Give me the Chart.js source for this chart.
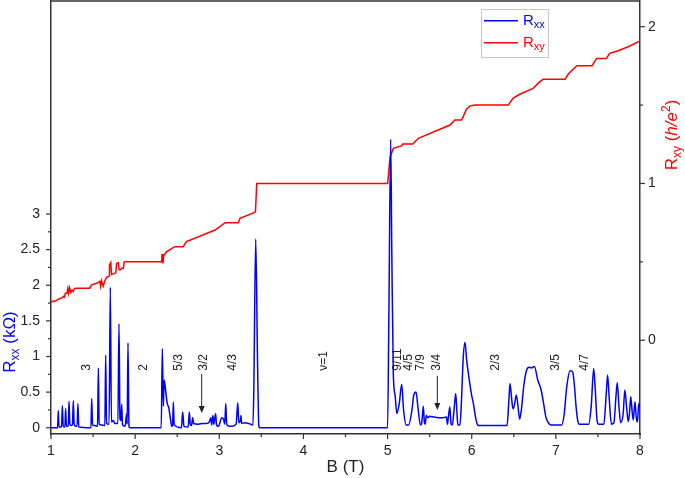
<!DOCTYPE html>
<html><head><meta charset="utf-8">
<script src="https://cdn.jsdelivr.net/npm/chart.js@4"></script>
<style>html,body{margin:0;padding:0;background:#fff}</style>
</head><body>
<canvas id="c" width="685" height="478"></canvas>
<script>
// ---- data ----
const B_xx = [1.00,1.078,1.087,1.095,1.125,1.135,1.145,1.165,1.174,1.183,1.205,1.214,1.224,1.235,1.255,1.265,1.275,1.29,1.31,1.32,1.33,
 1.475,1.484,1.494,1.52,1.553,1.563,1.572,1.60,1.64,1.65,1.66,1.69,1.705,1.718,1.74,1.76,1.795,1.808,1.82,1.832,1.84,1.85,1.88,1.90,1.905,1.915,1.927,1.94,
 2.31,2.323,2.335,2.345,2.36,2.38,2.40,2.42,2.435,2.445,2.454,2.464,2.55,2.565,2.58,2.63,2.644,2.655,2.67,2.684,2.695,2.75,2.80,2.85,2.88,2.90,2.91,2.925,2.935,2.957,2.967,2.99,
 3.03,3.05,3.065,3.077,3.088,3.12,3.15,3.20,3.22,3.232,3.25,3.258,3.265,3.30,3.35,3.40,3.41,3.433,3.455,3.47,3.48,
 5.00,5.015,5.037,5.05,5.068,5.09,5.11,5.14,5.168,5.19,5.22,5.25,5.29,5.31,5.338,5.36,5.39,5.405,5.425,5.437,5.447,5.46,5.48,5.50,5.55,5.60,5.65,5.70,5.712,5.72,5.74,5.755,5.77,5.79,5.81,5.825,5.835,5.86,5.875,5.90,5.92,5.94,5.97,6.00,6.02,6.045,6.07,6.10,
 6.42,6.44,6.455,6.475,6.49,6.505,6.53,6.55,6.57,6.59,6.62,6.65,6.68,6.71,6.745,6.785,6.825,6.86,6.88,6.91,6.94,
 7.07,7.10,7.13,7.17,7.20,7.22,7.24,7.26,7.28,7.39,7.42,7.45,7.47,7.49,7.51,7.57,7.60,7.615,7.635,7.66,7.69,7.715,7.73,7.75,7.77,7.80,7.82,7.84,7.86,7.875,7.89,7.905,7.92,7.94,7.955,7.97,7.985,8.00];
const R_xx = [0,0,0.24,0.01,0.01,0.31,0.02,0.01,0.27,0.02,0.02,0.37,0.05,0.03,0.04,0.38,0.06,0.02,0.02,0.34,0.01,
 0,0.41,0.03,0.03,0.02,0.84,0.05,0.04,0.03,1.02,0.06,0.05,1.97,0.08,0.10,0.06,0.06,1.46,0.12,0.10,0.33,0.04,0.02,0.20,0.05,1.19,0.02,0,
 0,1.11,0.30,0.67,0.55,0.35,0.28,0.12,0.02,0.03,0.36,0.04,0,0.22,0.02,0.01,0.22,0.05,0.03,0.14,0.06,0.05,0.06,0.06,0.08,0.14,0.04,0.17,0.05,0.20,0.04,0.02,
 0.14,0.12,0.05,0.34,0.05,0.02,0.02,0.05,0.35,0.07,0.10,0.17,0.06,0.07,0.06,0.04,0.50,2.65,0.90,0.02,0,
 0,1.50,4.05,2.50,0.76,0.45,0.20,0.35,0.61,0.25,0.04,0.04,0.25,0.45,0.50,0.30,0.04,0.06,0.30,0.08,0.05,0.17,0.14,0.16,0.15,0.14,0.14,0.15,0.05,0.12,0.29,0.05,0.04,0.25,0.48,0.20,0.04,0.04,0.30,1.00,1.20,0.95,0.68,0.45,0.34,0.15,0.04,0.03,
 0.03,0.35,0.62,0.40,0.27,0.30,0.46,0.30,0.12,0.25,0.60,0.80,0.85,0.84,0.86,0.67,0.53,0.30,0.155,0.07,0.04,
 0.04,0.20,0.58,0.80,0.78,0.60,0.30,0.10,0.05,0.05,0.30,0.83,0.50,0.10,0.05,0.05,0.50,0.74,0.40,0.05,0.07,0.45,0.63,0.30,0.07,0.20,0.53,0.30,0.085,0.20,0.435,0.25,0.11,0.365,0.15,0.08,0.34,0.28];
const B_xy = [1.00,1.05,1.10,1.13,1.15,1.16,1.17,1.19,1.20,1.21,1.22,1.235,1.25,1.265,1.28,1.31,1.46,1.48,1.55,1.58,1.59,1.60,1.62,1.64,1.66,1.69,1.695,1.71,1.72,1.75,1.77,1.78,1.80,1.81,1.83,1.84,1.86,1.87,1.90,
 2.315,2.32,2.33,2.34,2.375,2.47,2.57,2.61,2.95,3.07,3.226,3.246,3.413,3.43,3.445,
 5.00,5.01,5.03,5.07,5.17,5.18,5.30,5.366,5.742,5.80,5.88,5.94,5.98,6.04,6.435,6.49,6.57,6.73,6.80,6.85,7.11,7.15,7.25,7.43,7.485,7.60,7.64,7.74,7.86,8.00];
const R_xy = [0.245,0.25,0.265,0.27,0.28,0.275,0.30,0.30,0.33,0.30,0.335,0.305,0.32,0.31,0.33,0.332,0.332,0.352,0.365,0.375,0.345,0.38,0.345,0.38,0.40,0.41,0.48,0.495,0.42,0.425,0.43,0.49,0.495,0.45,0.45,0.46,0.46,0.50,0.501,
 0.501,0.55,0.49,0.54,0.565,0.597,0.597,0.629,0.703,0.75,0.75,0.778,0.814,0.82,1.00,
 1.00,1.05,1.171,1.224,1.241,1.252,1.252,1.288,1.373,1.405,1.405,1.475,1.495,1.50,1.50,1.543,1.569,1.607,1.645,1.665,1.665,1.70,1.751,1.751,1.798,1.798,1.83,1.847,1.872,1.909];

const xTickLabels = [1,2,3,4,5,6,7,8];
const rxxTickLabels = [0,0.5,1,1.5,2,2.5,3];
const rxyTickLabels = [0,1,2];

const annLabels = ['3','2','5/3','3/2','4/3','\u03bd=1','9/11','4/5','7/9','3/4','2/3','3/5','4/7'];
const annB      = [1.422,2.105,2.515,2.818,3.157,4.245,5.124,5.255,5.397,5.588,6.289,6.996,7.341];
const annBase   = 0.80;            // Rxx level of the label baseline (text start)
const arrowB      = [2.791,5.591];
const arrowTop    = [0.754,0.73];
const arrowBottom = [0.206,0.25];

const BLUE = '#0000ff', RED = '#ff0000', INK = '#222';
const FONT = '"Liberation Sans", Arial, sans-serif';

function range(a,b,s){const r=[];for(let v=a;v<=b+1e-9;v+=s)r.push(Math.round(v*1000)/1000);return r;}
function noPad(s){s.paddingTop=0;s.paddingBottom=0;s.paddingLeft=0;s.paddingRight=0;}

const extras = {
  id:'extras',
  afterDraw(chart){
    const ctx = chart.ctx, ca = chart.chartArea;
    const sx = chart.scales.x, sL = chart.scales.yL, sR = chart.scales.yR;
    ctx.save();
    // frame top
    ctx.strokeStyle = '#333'; ctx.lineWidth = 1.5;
    ctx.beginPath(); ctx.moveTo(ca.left, ca.top); ctx.lineTo(ca.right, ca.top); ctx.stroke();
    // tick marks
    ctx.lineWidth = 1.2; ctx.strokeStyle = '#333';
    sx.ticks.forEach(t=>{const p=sx.getPixelForValue(t.value);const L=xTickLabels.includes(t.value)?5:3;
      ctx.beginPath();ctx.moveTo(p,ca.bottom);ctx.lineTo(p,ca.bottom+L);ctx.stroke();});
    sL.ticks.forEach(t=>{const p=sL.getPixelForValue(t.value);const L=rxxTickLabels.includes(t.value)?5:3;
      ctx.beginPath();ctx.moveTo(ca.left,p);ctx.lineTo(ca.left-L,p);ctx.stroke();});
    sR.ticks.forEach(t=>{const p=sR.getPixelForValue(t.value);const L=rxyTickLabels.includes(t.value)?5:3;
      ctx.beginPath();ctx.moveTo(ca.right,p);ctx.lineTo(ca.right+L,p);ctx.stroke();});
    // annotations
    ctx.fillStyle = INK; ctx.font = '12px '+FONT; ctx.textAlign='left'; ctx.textBaseline='middle';
    const yb = sL.getPixelForValue(annBase);
    annLabels.forEach((s,i)=>{
      ctx.save(); ctx.translate(sx.getPixelForValue(annB[i]), yb); ctx.rotate(-Math.PI/2);
      ctx.fillText(s,0,0); ctx.restore();
    });
    ctx.strokeStyle = INK; ctx.lineWidth = 1;
    arrowB.forEach((b,i)=>{
      const px = sx.getPixelForValue(b), y1 = sL.getPixelForValue(arrowTop[i]), y2 = sL.getPixelForValue(arrowBottom[i]);
      ctx.beginPath(); ctx.moveTo(px,y1); ctx.lineTo(px,y2-5); ctx.stroke();
      ctx.beginPath(); ctx.moveTo(px,y2); ctx.lineTo(px-3,y2-7); ctx.lineTo(px+3,y2-7); ctx.closePath(); ctx.fill();
    });
    function rich(parts, x, y, align){
      let w=0; parts.forEach(p=>{ctx.font=p.f; w+=ctx.measureText(p.t).width;});
      let cx = align==='center' ? x-w/2 : x;
      ctx.textAlign='left'; ctx.textBaseline='alphabetic';
      parts.forEach(p=>{ctx.font=p.f; ctx.fillText(p.t,cx,y+(p.dy||0)); cx+=ctx.measureText(p.t).width;});
    }
    // axis titles
    ctx.fillStyle = INK;
    rich([{t:'B (T)',f:'17px '+FONT}], (ca.left+ca.right)/2, 472, 'center');
    ctx.fillStyle = BLUE;
    ctx.save(); ctx.translate(15, 342); ctx.rotate(-Math.PI/2);
    rich([{t:'R',f:'17px '+FONT},{t:'xx',f:'12px '+FONT,dy:4},{t:' (k\u03a9)',f:'17px '+FONT}],0,0,'center');
    ctx.restore();
    ctx.fillStyle = RED;
    ctx.save(); ctx.translate(677, 135); ctx.rotate(-Math.PI/2);
    rich([{t:'R',f:'17px '+FONT},{t:'xy',f:'12px '+FONT,dy:4},{t:' (',f:'17px '+FONT},{t:'h/e',f:'italic 17px '+FONT},{t:'2',f:'12px '+FONT,dy:-7},{t:')',f:'17px '+FONT}],0,0,'center');
    ctx.restore();
    // legend
    ctx.strokeStyle = '#c8c8c8'; ctx.lineWidth = 1;
    ctx.strokeRect(481.5, 9.5, 67, 48);
    const ds = chart.data.datasets;
    [[20.7,25],[42.7,47]].forEach((yy,i)=>{
      ctx.strokeStyle = ds[i].borderColor; ctx.lineWidth = 1.5;
      ctx.beginPath(); ctx.moveTo(484,yy[0]); ctx.lineTo(518,yy[0]); ctx.stroke();
      ctx.fillStyle = ds[i].borderColor;
      rich([{t:'R',f:'15px '+FONT},{t:i===0?'xx':'xy',f:'11px '+FONT,dy:3}],523,yy[1],'left');
    });
    ctx.restore();
  }
};

new Chart(document.getElementById('c'), {
  type:'line',
  data:{datasets:[
    {label:'Rxx', data:B_xx.map((b,i)=>({x:b,y:R_xx[i]})), yAxisID:'yL', borderColor:BLUE, borderWidth:1.5, pointRadius:0, cubicInterpolationMode:'monotone', fill:false},
    {label:'Rxy', data:B_xy.map((b,i)=>({x:b,y:R_xy[i]})), yAxisID:'yR', borderColor:RED, borderWidth:1.5, pointRadius:0, tension:0, fill:false}
  ]},
  options:{
    responsive:false, animation:false, devicePixelRatio:1,
    layout:{padding:{top:1,left:0,right:0,bottom:0}},
    plugins:{legend:{display:false}, tooltip:{enabled:false}},
    scales:{
      x:{type:'linear', min:1, max:8,
        afterBuildTicks:s=>{s.ticks=range(1,8,0.5).map(v=>({value:v}));},
        afterFit:s=>{s.height=44;noPad(s);},
        ticks:{autoSkip:false, maxRotation:0, padding:4, color:INK, font:{family:FONT,size:14},
          callback:v=>xTickLabels.includes(v)?String(v):''},
        grid:{drawOnChartArea:false, tickLength:5, tickColor:'transparent'},
        border:{display:true,color:'#333',width:1.5}},
      yL:{type:'linear', position:'left', min:-0.088, max:5.99,
        afterBuildTicks:s=>{s.ticks=range(0,3,0.25).map(v=>({value:v}));},
        afterFit:s=>{s.width=51;noPad(s);},
        ticks:{autoSkip:false, padding:6, color:INK, font:{family:FONT,size:14},
          callback:v=>rxxTickLabels.includes(v)?String(v):''},
        grid:{drawOnChartArea:false, tickLength:5, tickColor:'transparent'},
        border:{display:true,color:'#333',width:1.5}},
      yR:{type:'linear', position:'right', min:-0.598, max:2.164,
        afterBuildTicks:s=>{s.ticks=range(0,2,0.5).map(v=>({value:v}));},
        afterFit:s=>{s.width=45;noPad(s);},
        ticks:{autoSkip:false, padding:3, color:INK, font:{family:FONT,size:14},
          callback:v=>rxyTickLabels.includes(v)?String(v):''},
        grid:{drawOnChartArea:false, tickLength:5, tickColor:'transparent'},
        border:{display:true,color:'#333',width:1.5}}
    }
  },
  plugins:[extras]
});
</script>
</body></html>
